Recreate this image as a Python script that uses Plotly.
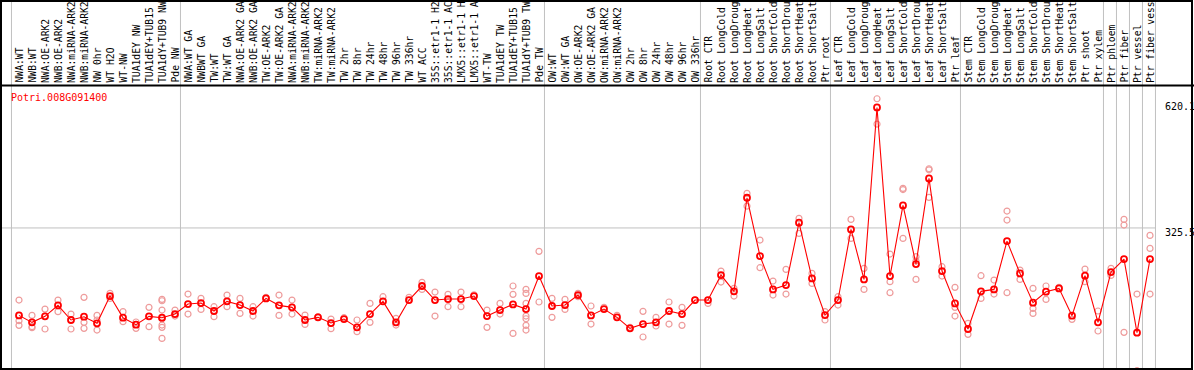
import plotly.graph_objects as go

W, H = 1194, 370

gene = "Potri.008G091400"

samples = [
    "NWA:WT", "NWB:WT", "NWA:OE-ARK2", "NWB:OE-ARK2", "NWA:miRNA-ARK2", "NWB:miRNA-ARK2",
    "NW 0hr", "WT H2O", "WT-NW", "TUA1dEY NW", "TUA1dEY+TUB15 NW", "TUA1dY+TUB9 NW", "Pde NW",
    "NWA:WT GA", "NWBWT GA", "TW:WT", "TW:WT GA", "NWA:OE-ARK2 GA", "NWB:OE-ARK2 GA",
    "TW:OE-ARK2", "TW:OE-ARK2 GA", "NWA:miRNA-ARK2", "NWB:miRNA-ARK2", "TW:miRNA-ARK2",
    "TW:miRNA-ARK2", "TW 2hr", "TW 8hr", "TW 24hr", "TW 48hr", "TW 96hr", "TW 336hr", "WT ACC",
    "35S::etr1-1 H2O", "35S::etr1-1 ACC", "LMX5::etr1-1 H2O", "LMX5::etr1-1 ACC", "WT-TW",
    "TUA1dEY TW", "TUA1dEY+TUB15 TW", "TUA1dY+TUB9 TW", "Pde TW",
    "OW:WT", "OW:WT GA", "OW:OE-ARK2", "OW:OE-ARK2 GA", "OW:miRNA-ARK2", "OW:miRNA-ARK2",
    "OW 2hr", "OW 8hr", "OW 24hr", "OW 48hr", "OW 96hr", "OW 336hr",
    "Root CTR", "Root LongCold", "Root LongDrought", "Root LongHeat", "Root LongSalt",
    "Root ShortCold", "Root ShortDrought", "Root ShortHeat", "Root ShortSalt", "Ptr root",
    "Leaf CTR", "Leaf LongCold", "Leaf LongDrought", "Leaf LongHeat", "Leaf LongSalt",
    "Leaf ShortCold", "Leaf ShortDrought", "Leaf ShortHeat", "Leaf ShortSalt", "Ptr leaf",
    "Stem CTR", "Stem LongCold", "Stem LongDrought", "Stem LongHeat", "Stem LongSalt",
    "Stem ShortCold", "Stem ShortDrought", "Stem ShortHeat", "Stem ShortSalt",
    "Ptr shoot", "Ptr xylem", "Ptr phloem", "Ptr fiber", "Ptr vessel", "Ptr fiber vessel",
]

means = [
    126.1, 110.2, 123.9, 149.0, 115.6, 123.1, 108.0, 170.2, 120.8, 104.9, 123.9, 120.8, 129.2,
    152.0, 154.3, 136.1, 158.1, 149.7, 136.1, 164.9, 149.0, 144.4, 115.6, 121.6, 108.7, 117.8,
    98.8, 129.2, 158.1, 110.2, 161.1, 193.1, 161.1, 163.4, 163.4, 170.2, 124.6, 138.3, 151.2,
    140.5, 215.8,
    147.5, 149.7, 172.5, 126.1, 140.5, 121.6, 96.6, 106.4, 110.2, 136.1, 129.2, 161.1,
    161.1, 218.0, 180.9, 394.3, 261.4, 185.4, 195.3, 337.4, 210.5, 126.9,
    161.1, 322.1, 208.2, 600.2, 215.8, 376.9, 243.1, 438.4, 227.2, 153.5,
    95.1, 180.9, 185.4, 295.5, 221.9, 155.1, 180.1, 187.7, 125.4, 216.6,
    110.2, 224.9, 254.6, 86.6, 254.6,
]

replicates = [
    [161.1, 103.4, 114.0], [126.1, 100.3, 98.1], [140.5, 95.1], [161.1, 134.6], [129.2, 95.1],
    [167.2, 110.2, 96.6], [126.1, 115.6, 92.7], [176.3, 164.9], [134.6, 111.7], [111.0, 96.6],
    [144.4, 100.3], [162.6, 159.5, 138.3, 118.5, 104.1, 98.8, 73.7], [138.3, 124.6],
    [174.8, 129.2], [164.9, 139.8], [145.9, 123.1], [172.5, 145.9], [164.9, 130.7],
    [145.9, 124.6], [167.2], [172.5, 126.1], [161.1, 129.2], [126.9, 105.6], [123.1],
    [117.8, 95.8], [120.8], [115.6, 89.0], [153.5, 110.2], [168.7], [119.3, 104.1], [167.2],
    [201.4, 185.4], [179.3, 124.6], [174.1, 145.9], [179.3, 145.9], [173.2], [138.3, 98.8],
    [153.5, 129.2], [193.1, 174.1, 85.1], [185.4, 176.3, 153.5, 124.6, 118.5, 103.4, 92.7],
    [272.1, 156.6],
    [164.9, 121.6], [162.6, 139.8], [176.3, 168.7], [147.5, 106.4], [144.4], [126.1], [98.8],
    [135.3, 76.8], [121.6, 101.9], [156.6, 106.4], [144.4, 103.4], [161.1],
    [153.5], [227.2, 202.1], [187.7, 170.2], [404.2, 375.3], [297.9, 234.8], [204.4, 172.5],
    [231.0, 174.8], [347.2, 313.1], [221.9, 199.0], [134.6, 115.6],
    [168.7, 149.7], [345.0, 301.6], [233.3, 185.4], [620.1, 562.2], [266.0, 202.9, 177.8],
    [415.6, 413.0, 301.6], [259.9, 250.0, 208.2], [460.4, 458.0, 395.0], [237.1, 215.8],
    [190.0, 144.4, 124.6],
    [108.0, 82.9], [216.6, 164.9], [206.7, 174.8], [364.0, 343.5, 177.8], [229.5, 208.2],
    [187.7, 142.1, 130.7], [193.1, 162.6], [190.0], [117.1], [231.7, 202.9],
    [136.1, 90.5], [233.3, 217.3], [345.0, 332.1, 87.4], [174.8, 0.0], [308.5, 278.9, 174.8],
]

# group separators: drawn after these sample indices
group_ends = [-1, 12, 40, 52, 62, 72, 83, 84, 85, 86, 87]

y_ticks = [620.1, 325.5, 0]
y_tick_text = ["620.1", "325.5", "0"]

# ---------------------------------------------------------------
FONT = "DejaVu Sans Mono"
MAXC = 14  # the header only has room for 14 characters
x_idx = list(range(len(samples)))


def px_x(p):
    return p / W


def px_y(p):
    return (H - p) / H


rx, ry = [], []
for i, reps in enumerate(replicates):
    for v in reps:
        rx.append(i)
        ry.append(v)

fig = go.Figure()
fig.add_trace(go.Scatter(
    x=rx, y=ry, mode="markers", hoverinfo="skip",
    marker=dict(symbol="circle-open", size=6, color="#ee9c9c", line=dict(width=1.2)),
))
fig.add_trace(go.Scatter(
    x=x_idx, y=means, mode="lines+markers",
    line=dict(color="#ff0000", width=1.1),
    marker=dict(symbol="circle-open", size=6, color="#ff0000", line=dict(width=1.8)),
    hovertext=samples,
))

shapes = []
for k in group_ends:
    shapes.append(dict(type="line", xref="x", yref="paper", x0=k + 0.42, x1=k + 0.42,
                       y0=0, y1=1, line=dict(color="#c0c0c0", width=1), layer="below"))
shapes.append(dict(type="line", xref="paper", yref="y", x0=px_x(2), x1=px_x(1156),
                   y0=y_ticks[1], y1=y_ticks[1], line=dict(color="#c0c0c0", width=1),
                   layer="below"))
shapes.append(dict(type="line", xref="paper", yref="paper", x0=0, x1=1,
                   y0=px_y(85.5), y1=px_y(85.5), line=dict(color="black", width=2)))
shapes.append(dict(type="rect", xref="paper", yref="paper", x0=px_x(1), x1=px_x(1192),
                   y0=px_y(369), y1=px_y(1), line=dict(color="black", width=2)))

annotations = []
for i, s in enumerate(samples):
    annotations.append(dict(x=i, xref="x", y=px_y(84), yref="paper",
                            text=s[:MAXC].rstrip(),
                            textangle=-90, xanchor="center", yanchor="bottom",
                            showarrow=False, borderpad=0,
                            font=dict(family=FONT, size=9.7, color="black")))
annotations.append(dict(x=px_x(9), xref="paper", y=px_y(97), yref="paper", text=gene,
                        xanchor="left", yanchor="middle", showarrow=False,
                        font=dict(family=FONT, size=10, color="#ff0000")))
shifts = [-8, -5, 9]
for v, t, sh in zip(y_ticks, y_tick_text, shifts):
    annotations.append(dict(x=px_x(1163), xref="paper", y=v, yref="y", yshift=sh,
                            text=t, xanchor="left", yanchor="middle", showarrow=False,
                            font=dict(family=FONT, size=10, color="black")))

fig.update_layout(
    width=W, height=H, margin=dict(l=0, r=0, t=0, b=0, pad=0),
    paper_bgcolor="white", plot_bgcolor="white", showlegend=False,
    xaxis=dict(range=[-19 / 13, (W - 19) / 13], domain=[0, 1], visible=False, fixedrange=True),
    yaxis=dict(range=[1.6, 651.4], domain=[0, (H - 85) / H], visible=False, fixedrange=True),
    shapes=shapes, annotations=annotations,
)

fig.write_html(
    "out.html",
    config={"displayModeBar": False},
    post_script="document.body.style.margin='0';document.body.style.overflow='hidden';",
)
